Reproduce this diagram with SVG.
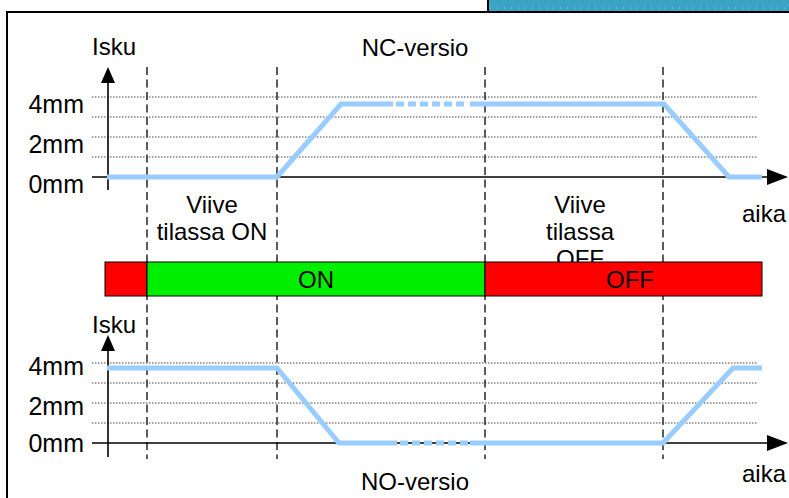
<svg xmlns="http://www.w3.org/2000/svg" width="789" height="498" viewBox="0 0 789 498">
<style>
text{font-family:"Liberation Sans",Arial,sans-serif;font-size:24px;fill:#000}
.lbl{text-anchor:end;font-size:25px}
.mid{text-anchor:middle}
.grid{stroke:#444;stroke-width:1;stroke-dasharray:1.5 1.5;fill:none}
.vdash{stroke:#333;stroke-width:1.6;stroke-dasharray:8 4.5;fill:none}
.axis{stroke:#000;stroke-width:1.6;fill:none}
.sig{stroke:#99ccff;stroke-width:5;fill:none;stroke-linejoin:miter}
.sigd{stroke:#99ccff;stroke-width:5;fill:none;stroke-dasharray:8 4}
</style>
<defs>
<marker id="ah" viewBox="0 0 10 10" refX="10" refY="5" markerWidth="10" markerHeight="10" markerUnits="userSpaceOnUse" orient="auto">
<path d="M0,0 L10,5 L0,10 Z" fill="#000"/>
</marker>
</defs>
<rect x="0" y="0" width="789" height="498" fill="#fff"/>
<g id="frame">
<rect x="7" y="12" width="800" height="500" fill="none" stroke="#000" stroke-width="2"/>
<rect x="489" y="0" width="300" height="11" fill="#3ba4c4"/>
<line x1="488" y1="0" x2="488" y2="12" stroke="#000" stroke-width="2"/>
<line x1="490" y1="8" x2="789" y2="8" stroke="#8fd0e4" stroke-width="1" stroke-dasharray="1 6"/>
</g>
<g id="grid">
<line class="grid" x1="92" y1="97" x2="757" y2="97"/>
<line class="grid" x1="92" y1="117" x2="757" y2="117"/>
<line class="grid" x1="92" y1="137" x2="757" y2="137"/>
<line class="grid" x1="92" y1="157" x2="757" y2="157"/>
<line class="grid" x1="92" y1="363" x2="757" y2="363"/>
<line class="grid" x1="92" y1="383" x2="757" y2="383"/>
<line class="grid" x1="92" y1="403" x2="757" y2="403"/>
<line class="grid" x1="92" y1="423" x2="757" y2="423"/>
</g>
<g id="timelines">
<line class="vdash" x1="147" y1="67" x2="147" y2="459"/>
<line class="vdash" x1="277" y1="67" x2="277" y2="459"/>
<line class="vdash" x1="485" y1="67" x2="485" y2="459"/>
<line class="vdash" x1="663" y1="67" x2="663" y2="459"/>
</g>
<g id="labels-top">
<text x="92" y="55">Isku</text>
<text class="mid" x="415" y="56">NC-versio</text>
<text class="lbl" x="84" y="113">4mm</text>
<text class="lbl" x="84" y="153">2mm</text>
<text class="lbl" x="84" y="193">0mm</text>
<text class="mid" x="212" y="213">Viive</text>
<text class="mid" x="212" y="240">tilassa ON</text>
<text class="mid" x="580" y="213">Viive</text>
<text class="mid" x="580" y="240">tilassa</text>
<text class="mid" x="580" y="267">OFF</text>
<text x="742" y="222">aika</text>
</g>
<g id="axes-top">
<line class="axis" x1="108" y1="190" x2="108" y2="82"/>
<path d="M101,83 L108,67 L115,83 Z" fill="#000"/>
<line class="axis" x1="92" y1="177" x2="768" y2="177"/>
<path d="M767,169 L788,177 L767,185 Z" fill="#000"/>
</g>
<g id="signal-nc">
<polyline class="sig" points="107,177 277,177 341,104 393,104"/>
<line class="sigd" x1="396" y1="104" x2="468" y2="104"/>
<polyline class="sig" points="470,104 664,104 729,177 762,177"/>
</g>
<g id="state-bar">
<rect x="105" y="262" width="42" height="34" fill="#ff0000" stroke="#000" stroke-width="1"/>
<rect x="147" y="262" width="338" height="34" fill="#00ee00" stroke="#000" stroke-width="1"/>
<rect x="485" y="262" width="277" height="34" fill="#ff0000" stroke="#000" stroke-width="1"/>
<text class="mid" x="316" y="288">ON</text>
<text class="mid" x="630" y="288">OFF</text>
</g>
<g id="labels-bottom">
<text x="92" y="333">Isku</text>
<text class="lbl" x="84" y="375">4mm</text>
<text class="lbl" x="84" y="415">2mm</text>
<text class="lbl" x="84" y="452">0mm</text>
<text class="mid" x="415" y="490">NO-versio</text>
<text x="742" y="482">aika</text>
</g>
<g id="axes-bottom">
<line class="axis" x1="108" y1="457" x2="108" y2="350"/>
<path d="M101,351 L108,335 L115,351 Z" fill="#000"/>
<line class="axis" x1="92" y1="443" x2="768" y2="443"/>
<path d="M767,435 L788,443 L767,451 Z" fill="#000"/>
</g>
<g id="signal-no">
<polyline class="sig" points="107,368 277,368 339,443 397,443"/>
<line class="sigd" x1="400" y1="443" x2="468" y2="443"/>
<polyline class="sig" points="470,443 663,443 733,368 762,368"/>
</g>
</svg>
